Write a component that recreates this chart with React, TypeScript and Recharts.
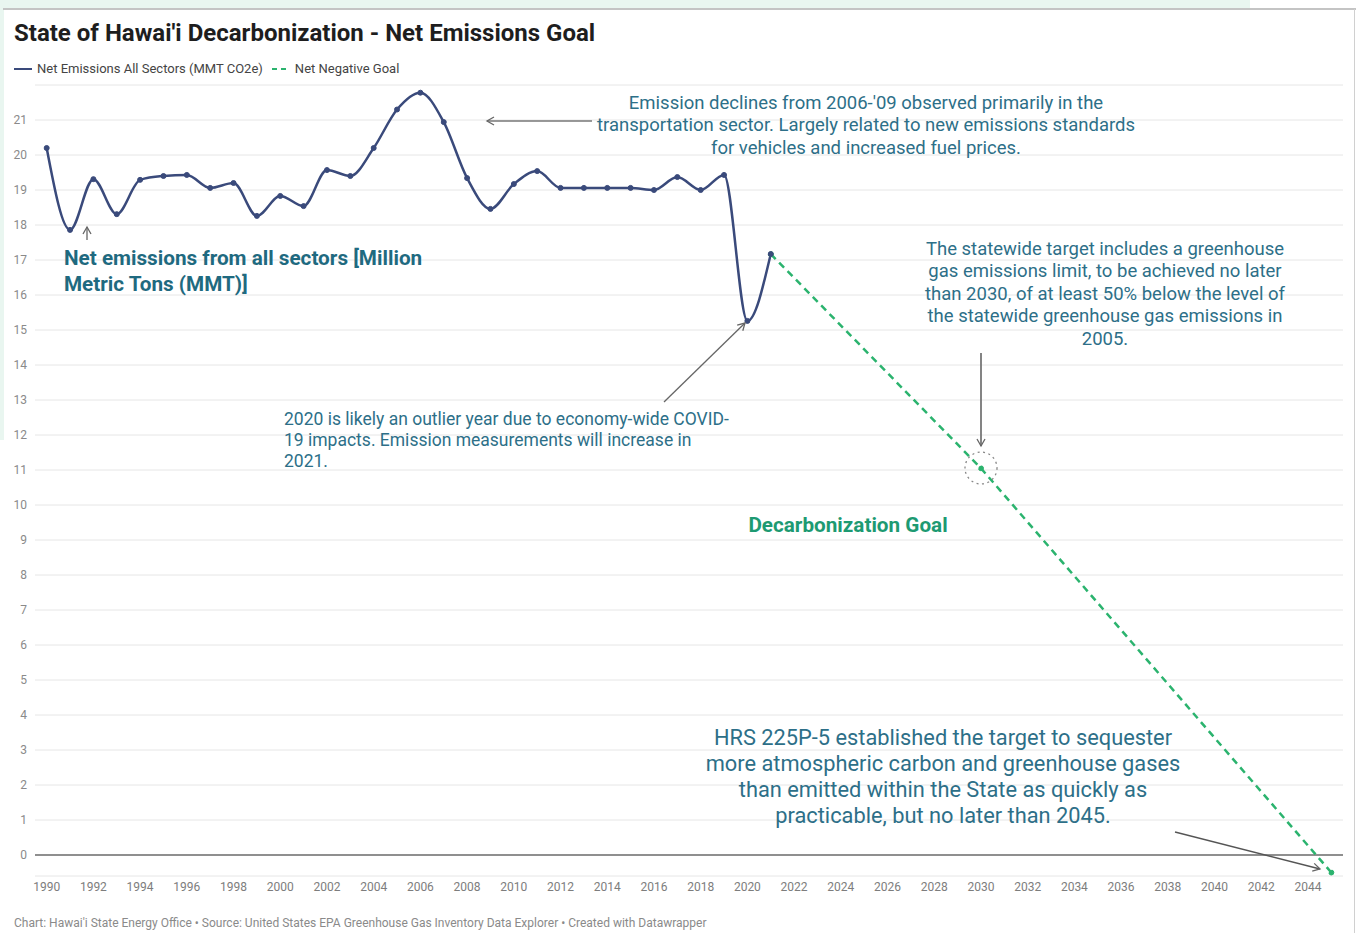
import React from "react"
import { LineChart, Line, XAxis, YAxis, CartesianGrid, ReferenceLine } from "recharts"

// net emissions, MMT CO2e
const years = [
  1990, 1991, 1992, 1993, 1994, 1995, 1996, 1997, 1998, 1999, 2000,
  2001, 2002, 2003, 2004, 2005, 2006, 2007, 2008, 2009, 2010, 2011,
  2012, 2013, 2014, 2015, 2016, 2017, 2018, 2019, 2020, 2021
]
const emissions = [
  20.2, 17.86, 19.31, 18.31, 19.29, 19.4, 19.43, 19.06, 19.2, 18.26, 18.83,
  18.54, 19.57, 19.4, 20.2, 21.3, 21.78, 20.94, 19.34, 18.46, 19.17, 19.54,
  19.06, 19.06, 19.06, 19.06, 19.0, 19.37, 19.0, 19.43, 15.26, 17.17
]

// net negative goal path
const goalYears = [2021, 2030, 2045]
const goalValues = [17.17, 11.05, -0.5]

const yTicks = [0, 1, 2, 3, 4, 5, 6, 7, 8, 9, 10, 11, 12, 13, 14, 15, 16, 17, 18, 19, 20, 21]
const xTicks = [
  1990, 1992, 1994, 1996, 1998, 2000, 2002, 2004, 2006, 2008, 2010, 2012, 2014,
  2016, 2018, 2020, 2022, 2024, 2026, 2028, 2030, 2032, 2034, 2036, 2038, 2040,
  2042, 2044
]

const emissionData = years.map((year, i) => ({ year, value: emissions[i] }))
const goalData = goalYears.map((year, i) => ({ year, goal: goalValues[i] }))

const NAVY = "#3a4a7b"
const GREEN = "#2bb36e"
const TEAL = "#2d6f88"
const FONT = "Roboto, 'Noto Sans', sans-serif"

const Note = ({ left, top, width, size, lh, align = "left", color = TEAL, weight = 400, children }: any) => (
  <div
    style={{
      position: "absolute",
      left,
      top,
      width,
      fontSize: size,
      lineHeight: lh + "px",
      textAlign: align,
      color,
      fontWeight: weight,
      fontFamily: FONT,
      whiteSpace: "nowrap"
    }}
  >
    {children}
  </div>
)

export default function App() {
  return (
    <div style={{ position: "absolute", left: 0, top: 0, width: 1356, height: 933, background: "#fff", overflow: "hidden", fontFamily: FONT }}>
      {/* page chrome around the embed */}
      <div style={{ position: "absolute", left: 0, top: 0, width: 1250, height: 8, background: "#e9f6f0" }} />
      <div style={{ position: "absolute", left: 0, top: 0, width: 4, height: 440, background: "#e9f6f0" }} />
      <div style={{ position: "absolute", left: 3, top: 8, width: 1353, height: 2, background: "#c4c4c4" }} />
      <div style={{ position: "absolute", left: 1354, top: 9, width: 1, height: 924, background: "#d0d0d0" }} />

      <div style={{ position: "absolute", left: 14, top: 19, fontSize: 24, lineHeight: "28px", fontWeight: 700, color: "#1e1e1e", whiteSpace: "nowrap" }}>
        State of Hawai'i Decarbonization - Net Emissions Goal
      </div>

      {/* legend */}
      <div style={{ position: "absolute", left: 14, top: 61, display: "flex", alignItems: "center", fontSize: 13, lineHeight: "16px", color: "#444", whiteSpace: "nowrap" }}>
        <svg width={20} height={6} style={{ marginRight: 3 }}>
          <line x1={0} y1={3} x2={18} y2={3} stroke={NAVY} strokeWidth={2} />
        </svg>
        <span>Net Emissions All Sectors (MMT CO2e)</span>
        <svg width={21} height={6} style={{ marginLeft: 9, marginRight: 2 }}>
          <line x1={0} y1={3} x2={18} y2={3} stroke={GREEN} strokeWidth={2} strokeDasharray="5 4" />
        </svg>
        <span>Net Negative Goal</span>
      </div>

      <div style={{ position: "absolute", left: 0, top: 0 }}>
        <LineChart width={1356} height={933} margin={{ top: 85, right: 13, bottom: 27, left: 5 }}>
          <CartesianGrid horizontal vertical={false} stroke="#e6e6e6" strokeWidth={1} />
          <XAxis
            dataKey="year"
            type="number"
            domain={[1989.5, 2045.5]}
            ticks={xTicks}
            axisLine={false}
            tickLine={false}
            tick={{ fill: "#7d7d7d", fontSize: 12, fontFamily: FONT }}
            tickMargin={0}
            allowDuplicatedCategory={false}
            height={30}
          />
          <YAxis
            type="number"
            domain={[-0.6, 22]}
            ticks={yTicks}
            axisLine={false}
            tickLine={false}
            tick={{ fill: "#8a8a8a", fontSize: 12, fontFamily: FONT }}
            width={30}
            allowDataOverflow
          />
          <ReferenceLine y={0} stroke="#8f8f8f" strokeWidth={2} />
          <Line
            data={goalData}
            dataKey="goal"
            type="linear"
            stroke={GREEN}
            strokeWidth={2.5}
            strokeDasharray="7 5"
            dot={{ r: 2.5, fill: GREEN, stroke: GREEN, strokeWidth: 1 }}
            isAnimationActive={false}
          />
          <Line
            data={emissionData}
            dataKey="value"
            type="monotone"
            stroke={NAVY}
            strokeWidth={2.5}
            dot={{ r: 2.5, fill: NAVY, stroke: NAVY, strokeWidth: 1 }}
            isAnimationActive={false}
          />
        </LineChart>
      </div>

      {/* annotation arrows */}
      <svg width={1356} height={933} style={{ position: "absolute", left: 0, top: 0, pointerEvents: "none" }}>
        <defs>
          <marker id="arr" markerWidth={10} markerHeight={10} refX={8} refY={5} orient="auto" markerUnits="userSpaceOnUse">
            <path d="M1,1 L8,5 L1,9" fill="none" stroke="#666" strokeWidth={1.3} />
          </marker>
        </defs>
        <line x1={592} y1={121} x2={487} y2={121} stroke="#777" strokeWidth={1.5} markerEnd="url(#arr)" />
        <line x1={87} y1={240} x2={87} y2={227} stroke="#666" strokeWidth={1.3} markerEnd="url(#arr)" />
        <line x1={981} y1={353} x2={981} y2={446} stroke="#777" strokeWidth={1.8} markerEnd="url(#arr)" />
        <line x1={664} y1={402} x2={745} y2={323} stroke="#666" strokeWidth={1.3} markerEnd="url(#arr)" />
        <line x1={1175} y1={832} x2={1320} y2={869} stroke="#555" strokeWidth={1.3} markerEnd="url(#arr)" />
        <circle cx={981} cy={468} r={16} fill="none" stroke="#888" strokeWidth={1.3} strokeDasharray="2 3.5" />
      </svg>

      <Note left={516} top={91.5} width={700} size={18.5} lh={22.5} align="center">
        Emission declines from 2006-'09 observed primarily in the<br />
        transportation sector. Largely related to new emissions standards<br />
        for vehicles and increased fuel prices.
      </Note>

      <Note left={64} top={245} size={20.7} lh={26} weight={700} color="#1f6a80">
        Net emissions from all sectors [Million<br />
        Metric Tons (MMT)]
      </Note>

      <Note left={855} top={237.5} width={500} size={18.5} lh={22.5} align="center">
        The statewide target includes a greenhouse<br />
        gas emissions limit, to be achieved no later<br />
        than 2030, of at least 50% below the level of<br />
        the statewide greenhouse gas emissions in<br />
        2005.
      </Note>

      <Note left={284} top={408.5} size={17.5} lh={21}>
        2020 is likely an outlier year due to economy-wide COVID-<br />
        19 impacts. Emission measurements will increase in<br />
        2021.
      </Note>

      <Note left={698} top={512} width={300} size={20.7} lh={26} align="center" weight={700} color="#1d9a72">
        Decarbonization Goal
      </Note>

      <Note left={643} top={725} width={600} size={21.8} lh={26} align="center">
        HRS 225P-5 established the target to sequester<br />
        more atmospheric carbon and greenhouse gases<br />
        than emitted within the State as quickly as<br />
        practicable, but no later than 2045.
      </Note>

      <div style={{ position: "absolute", left: 14, top: 915, fontSize: 12, lineHeight: "16px", color: "#8a8a8a", whiteSpace: "nowrap" }}>
        Chart: Hawai'i State Energy Office • Source: United States EPA Greenhouse Gas Inventory Data Explorer • Created with Datawrapper
      </div>
    </div>
  )
}
